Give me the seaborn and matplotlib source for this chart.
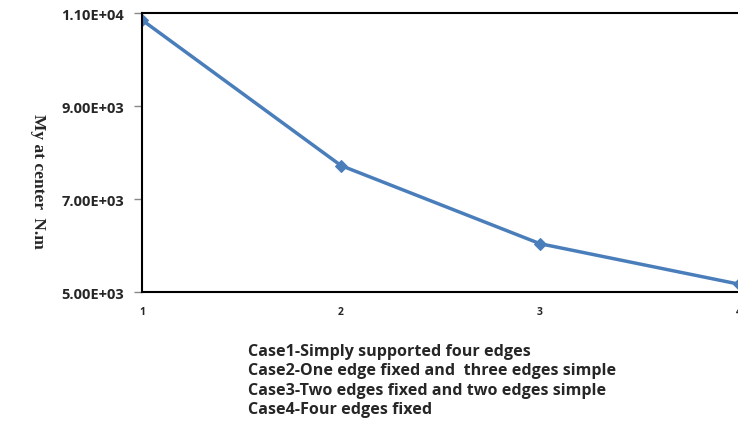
import pandas as pd
import matplotlib.pyplot as plt
import seaborn as sns

# data
cases = [1, 2, 3, 4]
my_center = [10850, 7720, 6040, 5170]
y_ticks = [5000, 7000, 9000, 11000]
y_tick_labels = ["5.00E+03", "7.00E+03", "9.00E+03", "1.10E+04"]
notes = [
    "Case1-Simply supported four edges",
    "Case2-One edge fixed and  three edges simple",
    "Case3-Two edges fixed and two edges simple",
    "Case4-Four edges fixed",
]

sns.set_style("white")
plt.rcParams["font.family"] = ["Open Sans", "DejaVu Sans"]

df = pd.DataFrame({"case": cases, "my": my_center})

fig = plt.figure(figsize=(7.38, 4.31), dpi=100)
ax = fig.add_axes([0.1924, 0.320, 0.8090, 0.6475])

sns.lineplot(data=df, x="case", y="my", ax=ax, color="#4A7EBB", linewidth=2.5,
             marker="D", markersize=6, markeredgecolor="#4A7EBB")

ax.set_xlim(1, 4)
ax.set_ylim(5000, 11000)
ax.set_xticks(cases)
ax.set_xticklabels([str(c) for c in cases], fontsize=7.5, fontweight="bold")
ax.set_yticks(y_ticks)
ax.set_yticklabels(y_tick_labels, fontsize=10.5, fontweight="bold")
ax.tick_params(axis="y", left=True, direction="out", length=6, width=1,
               color="#888888", pad=7)
ax.tick_params(axis="x", bottom=False, length=0, pad=10)
ax.set_xlabel("")
ax.set_ylabel("My at center  N.m", rotation=270, family="Liberation Serif",
              fontweight="bold", fontsize=12.5, va="center")
ax.yaxis.set_label_coords(-0.175, 0.40)

for side in ["top", "bottom", "left"]:
    ax.spines[side].set_color("black")
    ax.spines[side].set_linewidth(1.5)
ax.spines["right"].set_color("#888888")

for i, line in enumerate(notes):
    fig.text(248 / 738, 1 - (352 + i * 19.3) / 431, line, fontsize=11.6,
             fontweight="bold", va="center", ha="left")

fig.savefig("out.png", dpi=100)
